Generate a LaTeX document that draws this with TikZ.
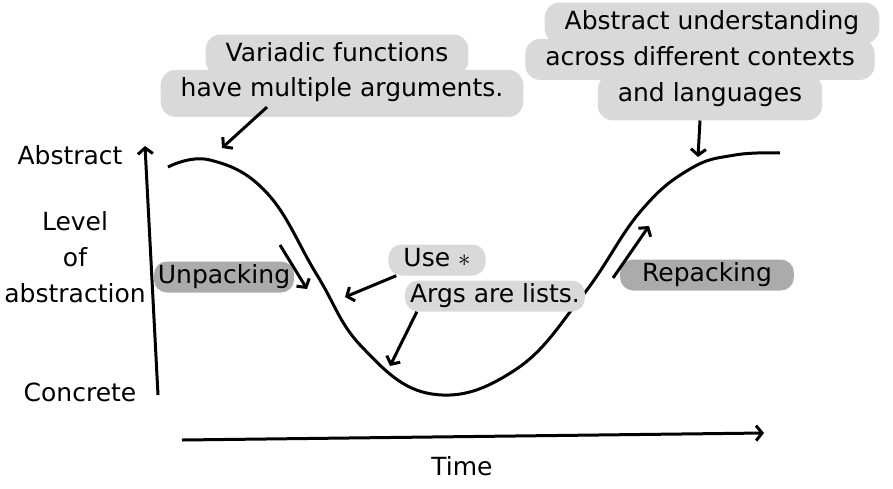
\documentclass[tikz,border=0pt]{standalone}
\usepackage{fontspec}
\setmainfont{DejaVu Sans}
\usepackage{tikz}
\usetikzlibrary{positioning,arrows.meta,calc}

\definecolor{bubblegray}{HTML}{D9D9D9}
\definecolor{pillgray}{HTML}{ABABAB}

\begin{document}
\begin{tikzpicture}[
  x=1pt, y=-1pt,
  node distance=0pt,
  every node/.style={font=\fontsize{25}{30}\selectfont, inner sep=0pt},
  bubble/.style={fill=bubblegray, rounded corners=15pt,
    text height=18pt, text depth=5pt, inner xsep=20pt, inner ysep=9pt},
  pill/.style={fill=pillgray, rounded corners=13pt,
    text height=18pt, text depth=5pt, inner xsep=4pt, inner ysep=4pt},
  tag/.style={fill=bubblegray, rounded corners=13pt,
    text height=18pt, text depth=5pt, inner xsep=5pt, inner ysep=4pt},
  arr/.style={line width=3pt, -{Straight Barb[length=6pt,width=15pt]}}
]
\useasboundingbox (0,0) rectangle (893,488);

% axes
\coordinate (ybot) at (158,395);
\coordinate (ytop) at (145,146);
\coordinate (xleft) at (182,440);
\coordinate (xright) at (764,433);
\draw[arr] (ybot) -- (ytop);
\draw[arr] (xleft) -- (xright);

\node (abstract) at (70,155) {Abstract};
\node (level) at (75,257) [align=center, font=\fontsize{25}{36}\selectfont] {Level\\of\\abstraction};
\node (concrete) at (80,392) {Concrete};
\node (time) at (462,466) {Time};

% the curve
\draw[line width=3pt, smooth, tension=0.7] plot coordinates {
  (168,167) (210,160) (267,193) (317,275) (362,347) (432,394)
  (515,370) (583,295) (640,212) (690,169) (735,155) (780,153)};

% bubbles
\node[bubble] (var1) at (337,55) {Variadic functions};
\node[bubble, below=-6pt of var1, xshift=5pt, text depth=11pt] (var2) {have multiple arguments.};
\node[bubble] (und1) at (712,23) {Abstract understanding};
\node[bubble, below=-5pt of und1, xshift=-12pt] (und2) {across different contexts};
\node[bubble, below=-6pt of und2, xshift=10pt, text depth=10pt] (und3) {and languages};

\node[pill] (unpack) at (224,277) {Unpacking};
\node[pill, inner xsep=22pt] (repack) at (707,275) {Repacking};
\node[tag, inner xsep=15pt] (use) at (437,260) {Use $\ast$};
\node[tag] (args) at (495,296) {Args are lists.};

% pointers
\coordinate (varTip) at (222,148);
\coordinate (undTip) at (698,157);
\coordinate (useTip) at (345,297);
\coordinate (argsTip) at (390,366);
\coordinate (unpA) at (280,245);
\coordinate (unpB) at (307,289);
\coordinate (repA) at (613,278);
\coordinate (repB) at (649,226);

\draw[arr] ([xshift=-75pt,yshift=10pt]var2.south) -- (varTip);
\draw[arr] ([xshift=-10pt]und3.south) -- (undTip);
\draw[arr] ([xshift=8pt]use.south west) -- (useTip);
\draw[arr] ([xshift=12pt]args.south west) -- (argsTip);
\draw[arr] (unpA) -- (unpB);
\draw[arr] (repA) -- (repB);

\end{tikzpicture}
\end{document}
